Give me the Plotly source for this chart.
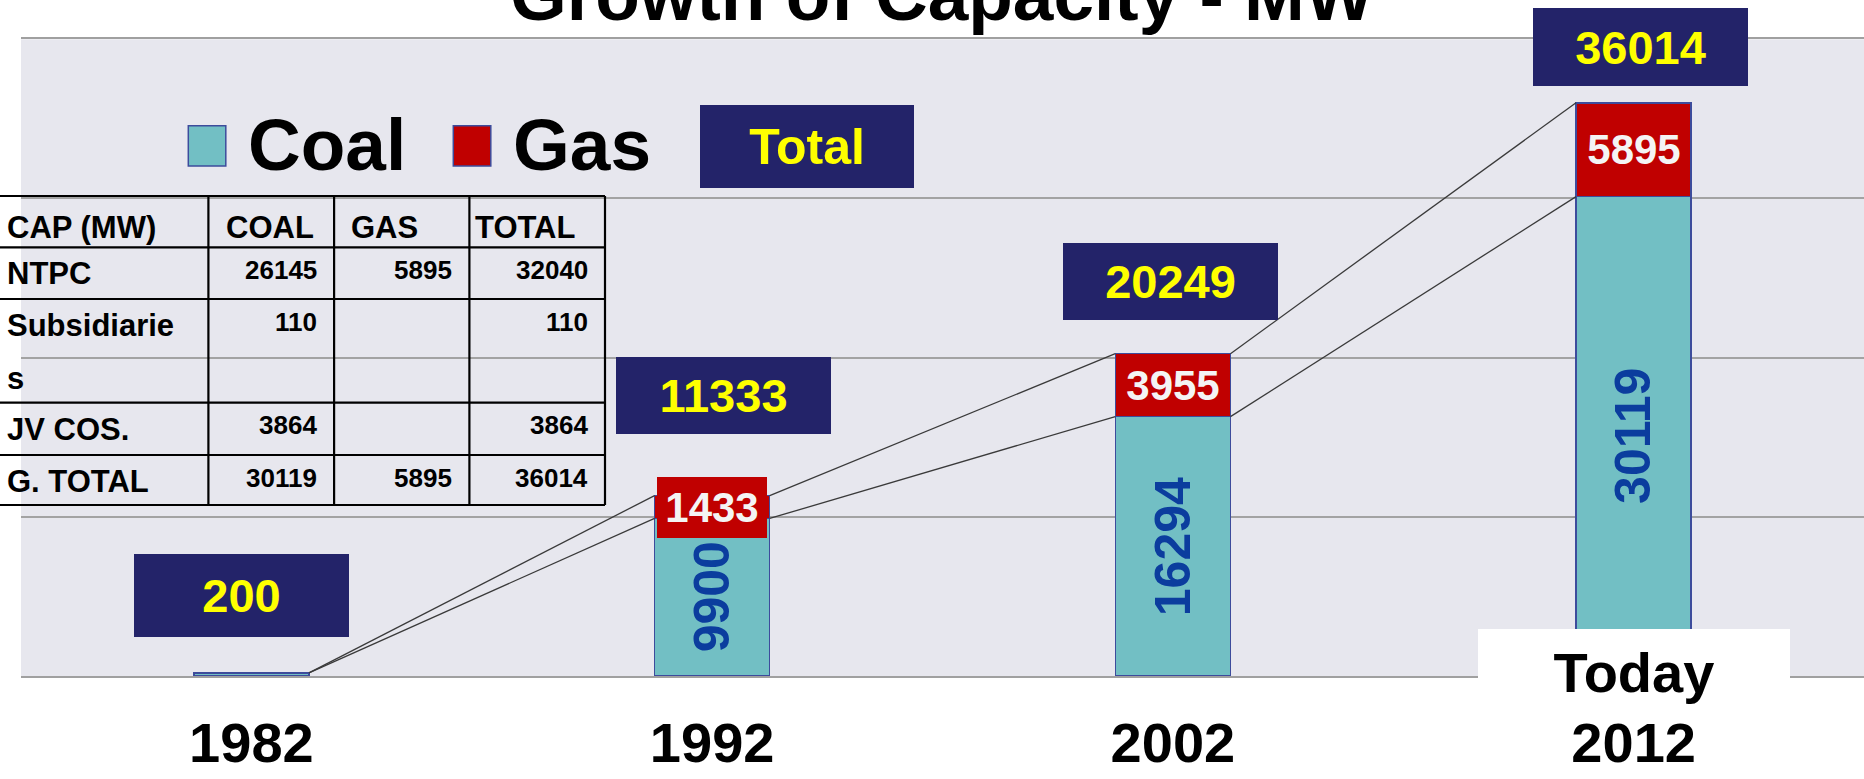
import plotly.graph_objects as go

# ---------------- data ----------------
years = ["1982", "1992", "2002", "2012"]
coal = [200, 9900, 16294, 30119]
gas = [0, 1433, 3955, 5895]
totals = [200, 11333, 20249, 36014]

table_header = ["CAP (MW)", "COAL", "GAS", "TOTAL"]
table_row_labels = [["NTPC"], ["Subsidiarie", "s"], ["JV COS."], ["G. TOTAL"]]
table_coal = ["26145", "110", "3864", "30119"]
table_gas = ["5895", "", "", "5895"]
table_total = ["32040", "110", "3864", "36014"]

title_text = "Growth of Capacity - MW"
legend_names = ["Coal", "Gas"]
total_legend = "Total"
today_text = "Today"

# ---------------- style ----------------
W, H = 1864, 779
COAL_C = "#72BFC4"
GAS_C = "#C00000"
NAVY = "#232369"
YELLOW = "#FFFF00"
BAR_LINE = "#3D4C9C"
PLOT_BG = "#E7E7EE"
FONT = "Liberation Sans, Arial, sans-serif"
BAR_W = 0.25

def px(x):
    return x / W

def py(y):
    return 1 - y / H

x_idx = list(range(len(years)))

fig = go.Figure()
fig.add_trace(go.Bar(x=x_idx, y=coal, width=BAR_W, name=legend_names[0],
                     marker=dict(color=COAL_C, line=dict(color=BAR_LINE, width=1.5)),
                     hoverinfo="skip"))
fig.add_trace(go.Bar(x=x_idx, y=gas, width=BAR_W, name=legend_names[1],
                     marker=dict(color=GAS_C, line=dict(color=BAR_LINE, width=1.5)),
                     hoverinfo="skip"))

# series lines connecting bar tops
for tops in (coal, totals):
    lx, ly = [], []
    for i in range(len(years) - 1):
        lx += [x_idx[i] + BAR_W / 2, x_idx[i + 1] - BAR_W / 2, None]
        ly += [tops[i], tops[i + 1], None]
    fig.add_trace(go.Scatter(x=lx, y=ly, mode="lines",
                             line=dict(color="#3A3A3A", width=1.3),
                             hoverinfo="skip", showlegend=False))

ann = []
shapes = []

# coal labels (rotated) inside segments
for i in x_idx:
    if coal[i] > 2000:
        ann.append(dict(x=x_idx[i], y=coal[i] / 2, xref="x", yref="y",
                        text=str(coal[i]), showarrow=False, textangle=-90,
                        yanchor="middle",
                        font=dict(family=FONT, size=50, color="#0B3D9E", weight="bold")))
# gas labels
for i in x_idx:
    if gas[i] > 0:
        ann.append(dict(x=x_idx[i], y=coal[i] + gas[i] / 2, xref="x", yref="y",
                        text=str(gas[i]), showarrow=False, bgcolor=GAS_C,
                        yanchor="middle",
                        width=110, height=61, borderpad=0, borderwidth=0,
                        font=dict(family=FONT, size=42, color="#F4F4F4", weight="bold")))
# total boxes
box_dx = [-9.6, 10.9, -2.4, 6.7]
box_dy = [77, 100, 72, 56]
box_h = [83, 77, 77, 78]
for i in x_idx:
    ann.append(dict(x=x_idx[i], y=totals[i], xref="x", yref="y",
                    xshift=box_dx[i], yshift=box_dy[i], yanchor="middle",
                    text=str(totals[i]), showarrow=False, bgcolor=NAVY,
                    width=215, height=box_h[i], borderpad=0, borderwidth=0,
                    font=dict(family=FONT, size=47, color=YELLOW, weight="bold")))

# title (clipped at top)
ann.append(dict(x=px(942), y=py(-5.5), xref="paper", yref="paper", yanchor="middle",
                text=title_text, showarrow=False,
                font=dict(family=FONT, size=73, color="black", weight="bold")))

# legend
for sx, tx, name, col in [(188.3, 246.7, legend_names[0], COAL_C),
                          (453.3, 511.7, legend_names[1], GAS_C)]:
    shapes.append(dict(type="rect", xref="paper", yref="paper",
                       x0=px(sx), x1=px(sx + 37.5), y0=py(166), y1=py(125.7),
                       fillcolor=col, line=dict(color=BAR_LINE, width=1.5), layer="above"))
    ann.append(dict(x=px(tx), y=py(145), xref="paper", yref="paper",
                    xanchor="left", yanchor="middle", text=name, showarrow=False,
                    borderpad=0,
                    font=dict(family=FONT, size=73, color="black", weight="bold")))
ann.append(dict(x=px(807), y=py(146.2), xref="paper", yref="paper",
                xanchor="center", yanchor="middle",
                text=total_legend, showarrow=False, bgcolor=NAVY,
                width=214, height=83, borderpad=0, borderwidth=0,
                font=dict(family=FONT, size=50, color=YELLOW, weight="bold")))

# "Today" white box
ann.append(dict(x=3, y=py(672), xref="x", yref="paper", yanchor="middle",
                text=today_text, showarrow=False, bgcolor="white",
                width=312, height=86, borderpad=0, borderwidth=0,
                font=dict(family=FONT, size=56, color="black", weight="bold")))

# table
col_edges = [0, 208.4, 334.1, 469.4, 605]
row_edges = [196, 247.3, 299, 402.7, 455, 505]
for y in row_edges:
    shapes.append(dict(type="line", xref="paper", yref="paper",
                       x0=px(col_edges[0]), x1=px(col_edges[-1]), y0=py(y), y1=py(y),
                       line=dict(color="black", width=2.2), layer="above"))
for x in col_edges[1:]:
    shapes.append(dict(type="line", xref="paper", yref="paper",
                       x0=px(x), x1=px(x), y0=py(row_edges[0]), y1=py(row_edges[-1]),
                       line=dict(color="black", width=2.2), layer="above"))
head_pad = [5.9, 17, 16, 5]
for j, h in enumerate(table_header):
    ann.append(dict(x=px(col_edges[j] + head_pad[j]), y=py(row_edges[0] + 31.5),
                    xref="paper", yref="paper", xanchor="left", yanchor="middle",
                    text=h, showarrow=False, borderpad=0,
                    font=dict(family=FONT, size=31, color="black", weight="bold")))
row_tops = [row_edges[1], row_edges[2], row_edges[3], row_edges[4]]
for r, lines in enumerate(table_row_labels):
    for k, line in enumerate(lines):
        ann.append(dict(x=px(6), y=py(row_tops[r] + 26.5 + 53 * k),
                        xref="paper", yref="paper", xanchor="left", yanchor="middle",
                        text=line, showarrow=False, borderpad=0,
                        font=dict(family=FONT, size=31, color="black", weight="bold")))
    for j, col in enumerate([table_coal, table_gas, table_total]):
        if col[r]:
            ann.append(dict(x=px(col_edges[j + 2] - 16), y=py(row_tops[r] + 22.5),
                            xref="paper", yref="paper", xanchor="right", yanchor="middle",
                            text=col[r], showarrow=False, borderpad=0,
                            font=dict(family=FONT, size=26, color="black", weight="bold")))

fig.update_layout(
    width=W, height=H,
    margin=dict(l=0, r=0, t=0, b=0, autoexpand=False),
    paper_bgcolor="white", plot_bgcolor=PLOT_BG,
    barmode="stack", showlegend=False,
    annotations=ann, shapes=shapes,
    xaxis=dict(domain=[px(21), 1], range=[-0.5, 3.5], tickmode="array",
               tickvals=x_idx, ticktext=years, ticks="", showgrid=False,
               showline=True, mirror=True, linecolor="#A0A0A0", linewidth=2,
               zeroline=False, ticklabelstandoff=17, automargin=False,
               tickfont=dict(family=FONT, size=56, color="black", weight="bold")),
    yaxis=dict(domain=[py(676), py(39.3)], range=[0, 40000], dtick=10000, tick0=0,
               showticklabels=False, ticks="", gridcolor="#A3A3A3", gridwidth=1.5,
               zeroline=False, showline=False, automargin=False),
)

fig.write_html("out.html",
               config={"displayModeBar": False},
               post_script="document.body.style.margin='0';"
                           "document.body.style.overflow='hidden';")
